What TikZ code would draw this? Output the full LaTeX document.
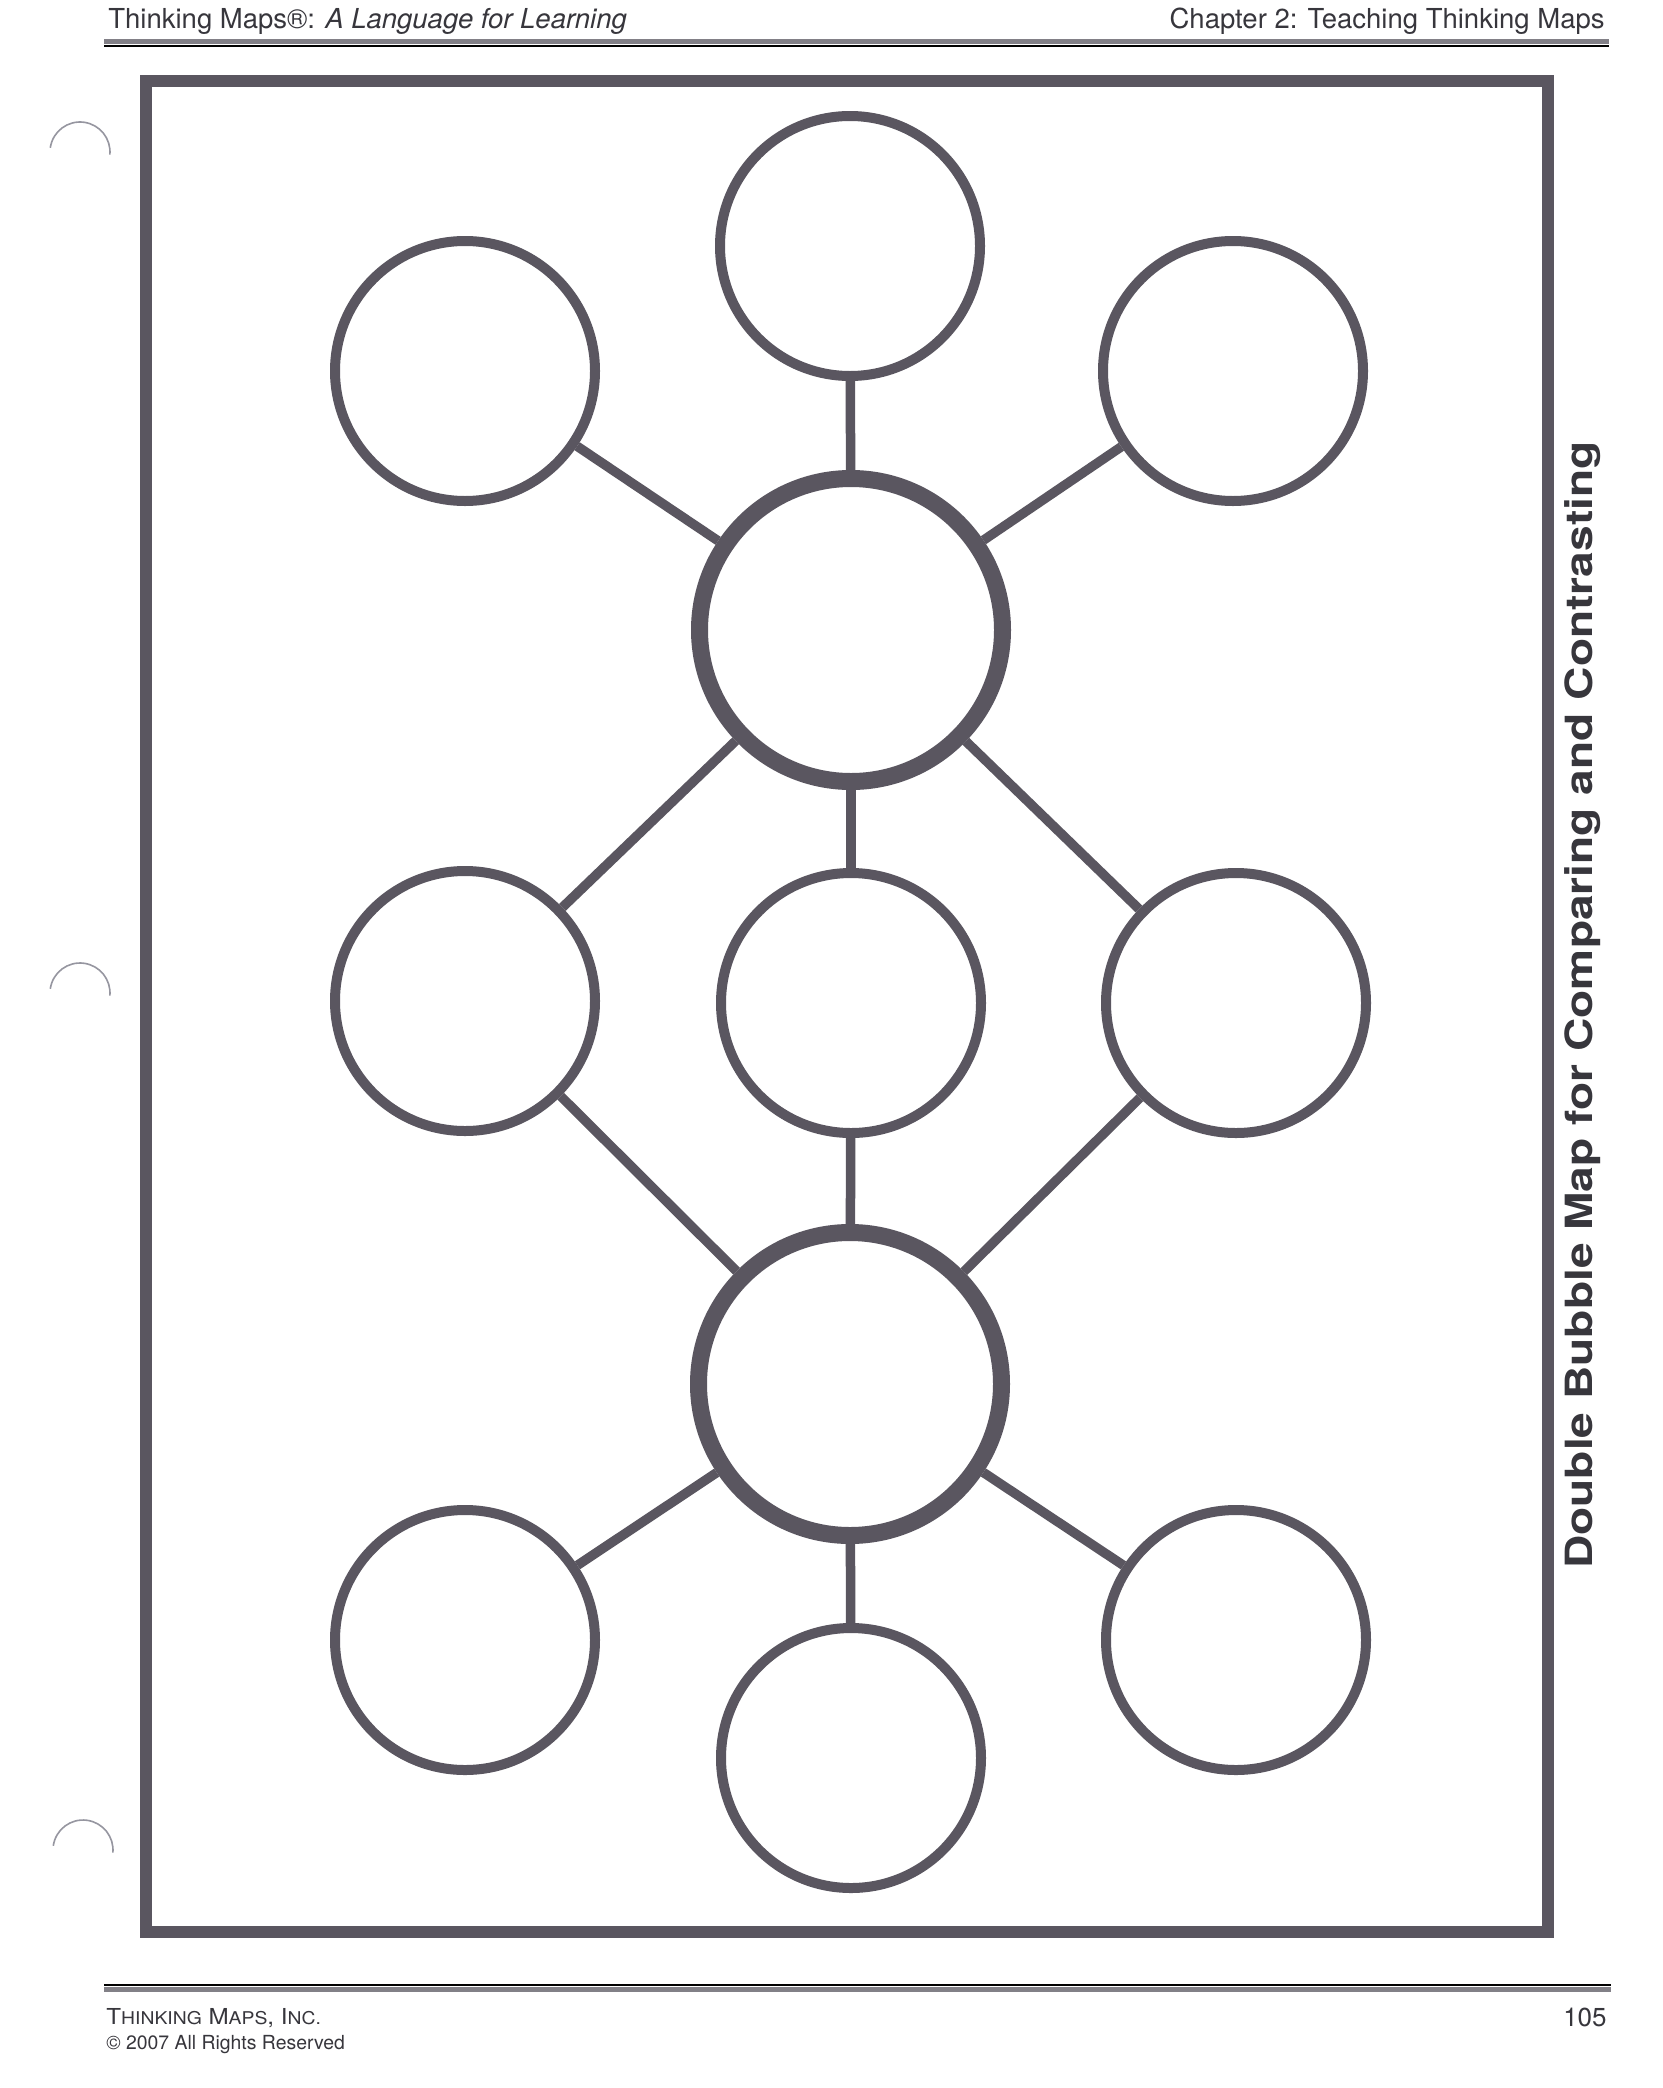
\documentclass[tikz,border=0pt]{standalone}
\usepackage{fontspec}
\usepackage{graphicx}
\setmainfont{TeX Gyre Heros}
\definecolor{ink}{RGB}{90,86,96}
\definecolor{txt}{RGB}{55,54,60}
\definecolor{rulegray}{RGB}{130,128,135}
\definecolor{holegray}{RGB}{150,150,160}
\tikzset{
  bubble/.style={circle, draw=ink, line width=5pt, minimum size=130pt, inner sep=0pt, fill=white},
  hub/.style={circle, draw=ink, line width=8.5pt, minimum size=151.5pt, inner sep=0pt, fill=white},
  link/.style={draw=ink, line width=4.75pt},
  frame/.style={draw=ink, line width=6pt},
  hole/.style={draw=holegray, line width=0.8pt},
  hdr/.style={inner sep=0pt, text=txt, font=\fontsize{13.75pt}{16pt}\selectfont},
  ftr/.style={inner sep=0pt, text=txt, font=\fontsize{9.7pt}{11pt}\selectfont},
}
\newcommand{\smc}[1]{{\fontsize{8.8pt}{10pt}\selectfont #1}}
\begin{document}
\begin{tikzpicture}[x=0.5pt,y=-0.5pt]
\useasboundingbox[fill=white] (0,0) rectangle (1663,2088);

% header
\node[hdr, anchor=base west] (h1) at (108,28) {Thinking Maps®: \textit{A Language for Learning}};
\node[hdr, anchor=base east] (h2) at (1605,28) {Chapter 2: Teaching Thinking Maps};
\draw[rulegray, line width=2.5pt] (104,41) -- (1609,41);
\draw[black, line width=1.4pt] (104,46) -- (1609,46);

% footer
\draw[black, line width=1.3pt] (104,1985) -- (1611,1985);
\draw[rulegray, line width=2.2pt] (104,1989.5) -- (1611,1989.5);
\node[ftr, anchor=base west, font=\fontsize{11pt}{12pt}\selectfont] (f1) at (106,2024) {\scalebox{1.1}[1]{T\smc{HINKING} M\smc{APS}, I\smc{NC.}}};
\node[ftr, anchor=base west] (f2) at (106,2049) {© 2007 All Rights Reserved};
\node[hdr, anchor=base east, font=\fontsize{13pt}{15pt}\selectfont] (pg) at (1607,2026) {105};

% punch hole marks
\draw[hole] (80,152) ++(188:30) arc[start angle=188,end angle=365,radius=30];
\draw[hole] (80,993) ++(188:30) arc[start angle=188,end angle=365,radius=30];
\draw[hole] (83,1850) ++(188:30) arc[start angle=188,end angle=365,radius=30];

% frame
\draw[frame] (146,81) rectangle (1548,1932);

% side title
\node[inner sep=0pt, text=txt, rotate=90, anchor=base, font=\fontsize{18.75pt}{22pt}\selectfont\bfseries] (side) at (1592,1005) {\scalebox{1.23}[1]{Double Bubble Map for Comparing and Contrasting}};

% bubbles
\node[bubble] (T)  at (850,246) {};
\node[bubble] (TL) at (465,371) {};
\node[bubble] (TR) at (1233,371) {};
\node[hub]    (C1) at (851,630) {};
\node[bubble] (ML) at (465,1001) {};
\node[bubble] (MC) at (851,1003) {};
\node[bubble] (MR) at (1236,1003) {};
\node[hub]    (C2) at (850,1384) {};
\node[bubble] (BL) at (465,1640) {};
\node[bubble] (BC) at (851,1758) {};
\node[bubble] (BR) at (1236,1640) {};

% connectors
\foreach \a/\b in {T/C1, TL/C1, TR/C1, C1/ML, C1/MC, C1/MR, C2/ML, C2/MC, C2/MR, C2/BL, C2/BC, C2/BR}
  \draw[link] (\a) -- (\b);
\end{tikzpicture}
\end{document}
